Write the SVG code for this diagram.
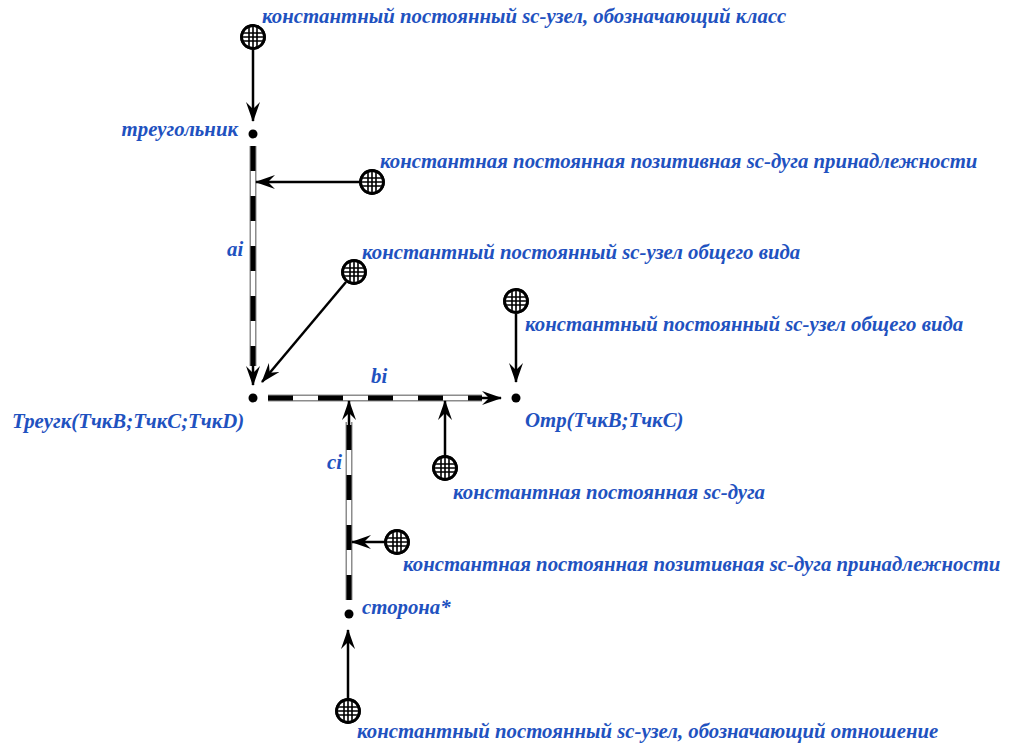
<svg xmlns="http://www.w3.org/2000/svg" width="1010" height="745" viewBox="0 0 1010 745">
<style>
text{font-family:"Liberation Serif","Times New Roman",serif;font-weight:bold;font-style:italic;font-size:20.8px;fill:#1f52c0}
.ln{stroke:#000;stroke-width:2.5;fill:none}
.o{stroke:#8c8c8c;stroke-width:7;fill:none}
.w{stroke:#fff;stroke-width:4;fill:none}
.d{stroke:#000;stroke-width:5;fill:none;stroke-dasharray:25 25}
.c{fill:#fff;stroke:#000;stroke-width:2.5}
.g{stroke:#000;stroke-width:1.6}
.dot{fill:#000}
</style>
<defs>
<marker id="ah" viewBox="0 0 20 14" refX="19" refY="7" markerWidth="20" markerHeight="14" markerUnits="userSpaceOnUse" orient="auto">
<path d="M0,0 L20,7 L0,14 L7,7 Z" fill="#000"/>
</marker>
<g id="cn">
<circle r="11.5" class="c"/>
<path class="g" d="M-4,-10.5V10.5M0,-11.5V11.5M4,-10.5V10.5M-10.5,-4H10.5M-11.5,0H11.5M-10.5,4H10.5"/>
<circle r="11.5" fill="none" stroke="#000" stroke-width="2.8"/>
</g>
</defs>
<g id="connectors">
<line class="ln" x1="253" y1="50" x2="253" y2="121" marker-end="url(#ah)"/>
<g id="arc-ai">
<line class="o" x1="253" y1="146" x2="253" y2="366"/>
<line class="w" x1="253" y1="146" x2="253" y2="366"/>
<line class="d" x1="253" y1="146" x2="253" y2="366"/>
<line class="ln" x1="253" y1="362" x2="253" y2="385" marker-end="url(#ah)"/>
</g>
<line class="ln" x1="360" y1="182" x2="256" y2="182" marker-end="url(#ah)"/>
<line class="ln" x1="346" y1="282" x2="262" y2="382" marker-end="url(#ah)"/>
<line class="ln" x1="516" y1="314" x2="516" y2="382" marker-end="url(#ah)"/>
<g id="arc-bi">
<line class="o" x1="268" y1="398" x2="482" y2="398"/>
<line class="w" x1="268" y1="398" x2="482" y2="398"/>
<line class="d" x1="268" y1="398" x2="482" y2="398" stroke-dasharray="77 25 25 25 25 25 25"/>
<line class="ln" x1="476" y1="398" x2="501" y2="398" marker-end="url(#ah)"/>
</g>
<line class="ln" x1="445" y1="455" x2="445" y2="401" marker-end="url(#ah)"/>
<g id="arc-ci">
<line class="o" x1="349" y1="600" x2="349" y2="422"/>
<line class="w" x1="349" y1="600" x2="349" y2="422"/>
<line class="d" x1="349" y1="600" x2="349" y2="422"/>
<line class="ln" x1="349" y1="426" x2="349" y2="401" marker-end="url(#ah)"/>
</g>
<line class="ln" x1="385" y1="542" x2="352" y2="542" marker-end="url(#ah)"/>
<line class="ln" x1="348" y1="699" x2="348" y2="630" marker-end="url(#ah)"/>
</g>
<g id="n-class"><use href="#cn" x="253" y="37"/><text x="262" y="23">константный постоянный sc-узел, обозначающий класс</text></g>
<g id="n-tri"><circle class="dot" cx="253" cy="134" r="4.5"/><text x="238" y="136" text-anchor="end">треугольник</text></g>
<g id="n-pos1"><use href="#cn" x="372" y="182"/><text x="380" y="168">константная постоянная позитивная sc-дуга принадлежности</text></g>
<g id="l-ai"><text x="227" y="256">ai</text></g>
<g id="n-gen1"><use href="#cn" x="354" y="272"/><text x="362" y="259">константный постоянный sc-узел общего вида</text></g>
<g id="n-gen2"><use href="#cn" x="516" y="301"/><text x="525" y="331">константный постоянный sc-узел общего вида</text></g>
<g id="n-treugk"><circle class="dot" cx="253" cy="398" r="4.5"/><text x="12" y="428">Треугк(ТчкB;ТчкC;ТчкD)</text></g>
<g id="l-bi"><text x="371" y="383">bi</text></g>
<g id="n-otr"><circle class="dot" cx="516" cy="398" r="4.5"/><text x="525" y="427">Отр(ТчкB;ТчкC)</text></g>
<g id="n-arc"><use href="#cn" x="445" y="468"/><text x="453" y="499">константная постоянная sc-дуга</text></g>
<g id="l-ci"><text x="327" y="469">ci</text></g>
<g id="n-pos2"><use href="#cn" x="397" y="542"/><text x="403" y="571">константная постоянная позитивная sc-дуга принадлежности</text></g>
<g id="n-side"><circle class="dot" cx="349" cy="614" r="4.5"/><text x="362" y="614">сторона*</text></g>
<g id="n-rel"><use href="#cn" x="348" y="711"/><text x="357" y="738">константный постоянный sc-узел, обозначающий отношение</text></g>
</svg>
